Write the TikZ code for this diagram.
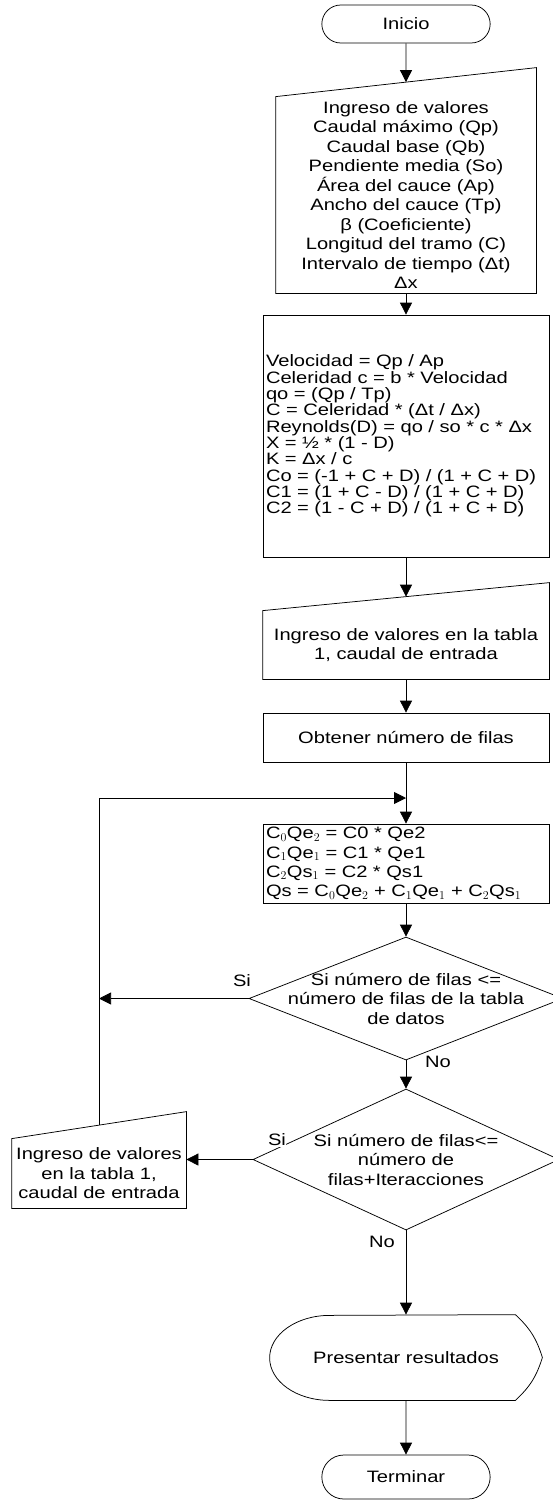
\documentclass[tikz,border=0pt]{standalone}
\usepackage{fontspec}
\setmainfont{Liberation Sans}[FakeStretch=1.22]
\usepackage{tikz}
\usetikzlibrary{arrows.meta,calc,positioning,shapes}

\begin{document}
\begin{tikzpicture}[x = 1pt, y = 1pt, line width = 0.75pt,
  font = \fontsize{16.5pt}{19.5pt}\selectfont,
  terminal/.style = {rounded rectangle, draw, minimum width = 175pt, minimum height = 38pt},
  ingreso/.style = {minimum height = #1, inner sep = 2pt, align = center},
  proceso/.style = {rectangle, draw, text width = 280pt, inner xsep = 3pt, align = left},
  decision/.style = {diamond, draw, inner sep = 0pt},
  flecha/.style = {-{Triangle[length = 12pt, width = 12pt]}}]
  \useasboundingbox (0,0) rectangle (553,-1504);

  \node[terminal] (ini) at (406,-24) {Inicio};
  \node[ingreso = 196pt, minimum width = 260pt, below of = ini, node distance = 171pt] (in1)
    {Ingreso de valores\\ Caudal máximo (Qp)\\ Caudal base (Qb)\\ Pendiente media (So)\\
     Área del cauce (Ap)\\ Ancho del cauce (Tp)\\ β (Coeficiente)\\ Longitud del tramo (C)\\
     Intervalo de tiempo (Δt)\\ Δx};
  \draw (in1.south west) -- (in1.north west) -- ([yshift = 29pt]in1.north east) -- (in1.south east) -- cycle;

  \node[proceso, minimum height = 242pt, font = \fontsize{16.5pt}{16.3pt}\selectfont,
        below of = in1, node distance = 241pt] (proc)
    {Velocidad = Qp / Ap\\
     Celeridad c = b * Velocidad\\
     qo = (Qp / Tp)\\
     C = Celeridad * (Δt / Δx)\\
     Reynolds(D) = qo / so * c * Δx\\
     X = ½ * (1 - D)\\
     K = Δx / c\\
     Co = (-1 + C + D) / (1 + C + D)\\
     C1 = (1 + C - D) / (1 + C + D)\\
     C2 = (1 - C + D) / (1 + C + D)};

  \node[ingreso = 68pt, minimum width = 286pt, below of = proc, node distance = 209pt] (in2)
    {Ingreso de valores en la tabla\\ 1, caudal de entrada};
  \draw (in2.south west) -- (in2.north west) -- ([yshift = 28pt]in2.north east) -- (in2.south east) -- cycle;

  \node[proceso, minimum height = 49pt, align = center, below of = in2, node distance = 92.5pt] (obt)
    {Obtener número de filas};
  \coordinate[below of = obt, node distance = 60.5pt] (join);

  \node[proceso, minimum height = 79pt, inner ysep = 1pt, font = \fontsize{16.5pt}{19.3pt}\selectfont,
        below of = obt, node distance = 126pt] (f)
    {C$_0$Qe$_2$ = C0 * Qe2\\
     C$_1$Qe$_1$ = C1 * Qe1\\
     C$_2$Qs$_1$ = C2 * Qs1\\
     Qs = C$_0$Qe$_2$ + C$_1$Qe$_1$ + C$_2$Qs$_1$};

  \node[decision, minimum width = 314pt, minimum height = 123pt, below of = f, node distance = 135pt] (d1) {};
  \node[align = center] (t1) at (d1) {Si número de filas <=\\ número de filas de la tabla\\ de datos};

  \node[decision, minimum width = 306pt, minimum height = 141pt, below of = d1, node distance = 161pt] (d2) {};
  \node[align = center] (t2) at (d2) {Si número de filas<=\\ número de\\ filas+Iteracciones};

  \node[ingreso = 69pt, minimum width = 174pt] (in3) at (99,-1173.5)
    {Ingreso de valores\\ en la tabla 1,\\ caudal de entrada};
  \draw (in3.south west) -- (in3.north west) -- ([yshift = 27pt]in3.north east) -- (in3.south east) -- cycle;

  \node[minimum width = 272pt, minimum height = 85pt, below of = d2, node distance = 198pt] (pres)
    {Presentar resultados};
  \draw ([xshift = 60pt]pres.south west) arc[start angle = 270, end angle = 90, x radius = 60pt, y radius = 42.5pt]
    -- ([xshift = -27pt]pres.north east) to[bend left = 15] (pres.east)
    to[bend left = 15] ([xshift = -27pt]pres.south east) -- cycle;

  \node[terminal, minimum height = 44pt, below of = pres, node distance = 119.5pt] (term) {Terminar};

  \draw[flecha] (ini) -- ([yshift = 14.5pt]in1.north);
  \draw[flecha] (in1) -- (proc);
  \draw[flecha] (proc) -- ([yshift = 14pt]in2.north);
  \draw[flecha] (in2) -- (obt);
  \draw[flecha] (obt) -- (f);
  \draw[flecha] (f) -- (d1);
  \draw[flecha] (d1) -- (d2);
  \draw[flecha] (d2) -- (pres);
  \draw[flecha] (pres) -- (term);

  \draw[flecha] (d1.west) -- (d1.west -| in3);
  \draw[flecha] (d2.west) -- (d2.west -| in3.east);
  \draw[flecha] ([yshift = 13.5pt]in3.north) |- (join);

  \node (si1) at (242,-981) {Si};
  \node (no1) at (438,-1062) {No};
  \node[fill = white, inner sep = 0.5pt] (si2) at (277,-1140) {Si};
  \node (no2) at (382,-1242) {No};
\end{tikzpicture}
\end{document}
